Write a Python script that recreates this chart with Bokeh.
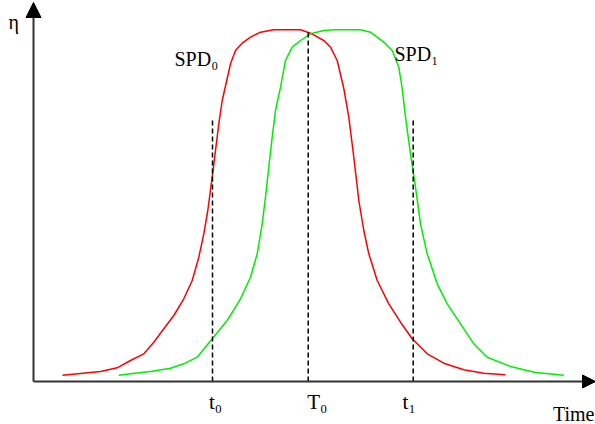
from bokeh.plotting import figure
from bokeh.models import Range1d, Label, Arrow, NormalHead, ColumnDataSource
from bokeh.embed import file_html
from bokeh.resources import INLINE

# ---- data (arbitrary schematic units: time on x, efficiency eta on y) ----
spd0_time = [29, 67, 83.7, 97, 110.3, 120.3, 130.3, 140.3, 150.3, 158.7, 165.3, 170.3,
             174.3, 178.7, 182, 185.3, 188.7, 193.7, 197, 202, 208.7, 217, 227, 240.3,
             267, 277, 290.3, 297, 303.7, 310.3, 315.3, 320.3, 325.3, 330.3, 335.3, 343.7,
             355.3, 367, 378.7, 393.7, 410.3, 430.3, 450.3, 472]
spd0_eta = [6.3, 10, 13.7, 21, 27.7, 39.3, 52.7, 66, 82.7, 101, 124.3, 147.7,
            171, 204.3, 231, 257.7, 281, 303, 317.7, 331, 338.3, 344.3, 349.3, 351.7,
            351.7, 348.3, 341, 334.3, 321, 293, 264.3, 224.3, 181, 151, 127.7, 101,
            77.7, 59.3, 42.7, 27.7, 18.3, 11.7, 8.3, 6.7]

spd1_time = [85.3, 97, 117, 137, 150.3, 163.7, 178.7, 193.7, 207, 217, 223.7, 228.7,
             232, 235.3, 238.7, 242, 247, 252, 258.7, 267, 277, 290.3, 300.3, 327,
             337, 350.3, 358.7, 365.3, 368.7, 372, 377, 382, 387, 393.7, 403.7, 413.7,
             427, 440.3, 453.7, 477, 502, 530.3]
spd1_eta = [6.3, 7.7, 10, 13.3, 17.7, 24.3, 42.7, 61, 82.7, 104.3, 127.7, 157.7,
            184.3, 214.3, 244.3, 271, 294.3, 321, 334.3, 341, 347.7, 351, 351.7, 351.7,
            349.3, 339.3, 331, 314.3, 293, 264.3, 227.7, 194.3, 157.7, 127.7, 97.7, 77.7,
            57.7, 37.7, 24.3, 15, 9, 6.3]

marker_names = ["t\u2080", "T\u2080", "t\u2081"]
marker_times = [179, 274.7, 379.7]
marker_tops = [261, 349.3, 261]

curve_names = ["SPD\u2080", "SPD\u2081"]
x_min, x_max = -33, 562
y_min, y_max = -43, 381

FONT = "Liberation Serif"
LIFT = 7  # screen-pixel correction of the text baseline

p = figure(width=595, height=424, output_backend="svg", toolbar_location=None,
           x_range=Range1d(x_min, x_max), y_range=Range1d(y_min, y_max),
           min_border=0, min_border_left=0, min_border_right=0,
           min_border_top=0, min_border_bottom=0)
p.xaxis.visible = False
p.yaxis.visible = False
p.grid.visible = False
p.outline_line_color = None
p.background_fill_color = "white"
p.border_fill_color = "white"

# curves
p.line(spd0_time, spd0_eta, line_color="#ff0000", line_width=1.5)
p.line(spd1_time, spd1_eta, line_color="#00ee00", line_width=1.5)

# dashed marker lines
src = ColumnDataSource(dict(x=marker_times, top=marker_tops, base=[0] * len(marker_times)))
p.segment(x0="x", y0="base", x1="x", y1="top", source=src,
          line_color="black", line_width=1.5, line_dash="5 3")

# axes with arrow heads
axis_col = "#333333"
p.add_layout(Arrow(x_start=0, y_start=0, x_end=0, y_end=y_max - 2,
                   line_color=axis_col, line_width=2,
                   end=NormalHead(size=15, fill_color="black", line_color="black")))
p.add_layout(Arrow(x_start=0, y_start=0, x_end=x_max, y_end=0,
                   line_color=axis_col, line_width=2,
                   end=NormalHead(size=13, fill_color="black", line_color="black")))


def add_text(x, y, text, size, align="left", x_offset=0):
    p.add_layout(Label(x=x, y=y, x_offset=x_offset, y_offset=LIFT, text=text,
                       text_align=align, text_baseline="alphabetic",
                       text_font=FONT, text_font_size=size, text_color="black"))


# tick-like labels under the time axis
offsets = [3, 9, -4]
for name, t, off in zip(marker_names, marker_times, offsets):
    add_text(t, -27, name, "21px", align="center", x_offset=off)

# curve labels
add_text(141, 316, curve_names[0], "20px")
add_text(361, 321, curve_names[1], "20px")

# axis titles
add_text(-25, 353, "\u03b7", "20px")
add_text(x_max - 1, -39, "Time", "20px", align="right")

open("out.html", "w").write(file_html(p, INLINE))
